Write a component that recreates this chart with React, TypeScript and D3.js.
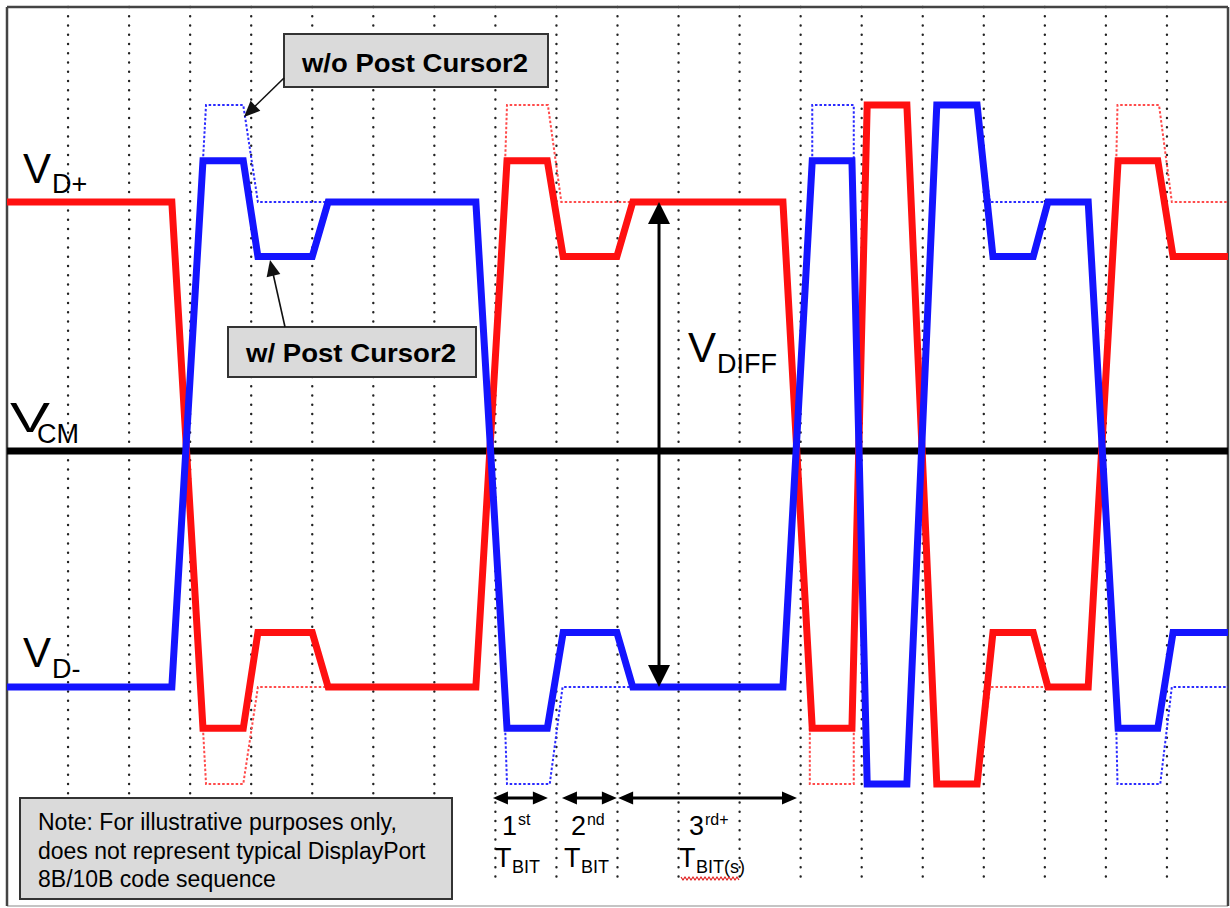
import React from "react";
import * as d3 from "d3";

const W = 1230;
const H = 908;

// time axis: bit-grid divisions (0..20); level axis: nominal swing units (+1 = VD+, -1 = VD-)
const gridDivisions = d3.range(1, 20);

const redSolid: [number, number][] = [
  [0, 1], [2.7, 1], [3.21, -1.17], [3.87, -1.17], [4.11, -0.775], [5.0, -0.775],
  [5.26, -1], [7.68, -1], [8.19, 1.17], [8.85, 1.17], [9.11, 0.775], [9.99, 0.775],
  [10.25, 1], [12.71, 1], [13.19, -1.17], [13.84, -1.17], [14.09, 1.4], [14.74, 1.4],
  [15.23, -1.4], [15.89, -1.4], [16.15, -0.775], [16.81, -0.775], [17.05, -1], [17.71, -1],
  [18.2, 1.17], [18.85, 1.17], [19.1, 0.775], [20, 0.775],
];

const blueSolid: [number, number][] = [
  [0, -1], [2.7, -1], [3.21, 1.17], [3.87, 1.17], [4.11, 0.775], [5.0, 0.775],
  [5.26, 1], [7.68, 1], [8.19, -1.17], [8.85, -1.17], [9.11, -0.775], [9.99, -0.775],
  [10.25, -1], [12.71, -1], [13.19, 1.17], [13.84, 1.17], [14.09, -1.4], [14.74, -1.4],
  [15.23, 1.4], [15.89, 1.4], [16.15, 0.775], [16.81, 0.775], [17.05, 1], [17.71, 1],
  [18.2, -1.17], [18.85, -1.17], [19.1, -0.775], [20, -0.775],
];

// without Post Cursor2 (dotted)
const redDotted: [number, number][][] = [
  [[3.21, -1.17], [3.26, -1.4], [3.87, -1.4], [4.11, -1], [5.26, -1]],
  [[8.16, 1.17], [8.19, 1.4], [8.86, 1.4], [9.08, 1], [10.25, 1]],
  [[13.15, -1.17], [13.15, -1.4], [13.87, -1.4], [13.87, -1.17]],
  [[15.89, -1.4], [16.1, -1], [17.05, -1]],
  [[18.17, 1.17], [18.19, 1.4], [18.87, 1.4], [19.08, 1], [20, 1]],
];

const blueDotted: [number, number][][] = [
  [[3.21, 1.17], [3.26, 1.4], [3.87, 1.4], [4.11, 1], [5.26, 1]],
  [[8.16, -1.17], [8.19, -1.4], [8.89, -1.4], [9.1, -1], [10.25, -1]],
  [[13.19, 1.17], [13.19, 1.4], [13.87, 1.4], [13.87, 1.17]],
  [[15.89, 1.4], [16.1, 1], [17.05, 1]],
  [[18.17, -1.17], [18.19, -1.4], [18.89, -1.4], [19.08, -1], [20, -1]],
];

const vcmLevel = -0.027;
const vdiffTime = 10.68;
const vdiffRange: [number, number] = [1, -1];

const bitSpans = [
  { num: "1", sup: "st", sub: "BIT", from: 7.96, to: 8.86 },
  { num: "2", sup: "nd", sub: "BIT", from: 9.09, to: 9.99 },
  { num: "3", sup: "rd+", sub: "BIT(s)", from: 10.01, to: 12.94 },
];

const noteLines = [
  "Note: For illustrative purposes only,",
  "does not represent typical DisplayPort",
  "8B/10B code sequence",
];

const FONT = "'Liberation Sans', Arial, Helvetica, sans-serif";

function arrowHead(tipX: number, tipY: number, dx: number, dy: number, len: number, half: number) {
  const bx = tipX - dx * len;
  const by = tipY - dy * len;
  const px = -dy, py = dx;
  return `${tipX},${tipY} ${bx + px * half},${by + py * half} ${bx - px * half},${by - py * half}`;
}

function pointerArrow(x1: number, y1: number, x2: number, y2: number) {
  const L = Math.hypot(x2 - x1, y2 - y1);
  const dx = (x2 - x1) / L, dy = (y2 - y1) / L;
  const len = 16, half = 7;
  return (
    <g>
      <line x1={x1} y1={y1} x2={x2 - dx * len * 0.8} y2={y2 - dy * len * 0.8} stroke="#111" strokeWidth={1.6} />
      <polygon points={arrowHead(x2, y2, dx, dy, len, half)} fill="#111" />
    </g>
  );
}

export default function App() {
  const x = d3.scaleLinear().domain([0, 20]).range([7, 1228]);
  const y = d3.scaleLinear().domain([-1, 1]).range([687, 202]);
  const line = d3.line<[number, number]>().x((d) => x(d[0])).y((d) => y(d[1]));

  const yTop = y(vdiffRange[0]);
  const yBot = y(vdiffRange[1]);
  const xd = x(vdiffTime);

  const arrowY = 798;

  return (
    <svg width={W} height={H} style={{ position: "absolute", left: 0, top: 0, background: "#fff" }} fontFamily={FONT}>
      <rect x={0} y={0} width={W} height={H} fill="#fff" />
      {/* dotted grid */}
      {gridDivisions.map((k) => (
        <line key={k} x1={x(k)} x2={x(k)} y1={7} y2={880} stroke="#222" strokeWidth={2.4}
          strokeDasharray="0 9.25" strokeLinecap="round" />
      ))}
      {/* frame */}
      <line x1={7} y1={906} x2={1228} y2={906} stroke="#c4c4c4" strokeWidth={2} />
      <line x1={7} y1={7} x2={1228} y2={7} stroke="#444" strokeWidth={2.5} />
      <line x1={7} y1={7} x2={7} y2={906} stroke="#444" strokeWidth={2.5} />
      <line x1={1228} y1={7} x2={1228} y2={906} stroke="#444" strokeWidth={2.5} />

      {/* V_CM line */}
      <line x1={7} x2={1228} y1={y(vcmLevel)} y2={y(vcmLevel)} stroke="#000" strokeWidth={7} />

      {/* dotted waveforms (w/o Post Cursor2) */}
      {redDotted.map((seg, i) => (
        <path key={"rd" + i} d={line(seg) || ""} fill="none" stroke="#ff4a4a" strokeWidth={2} strokeDasharray="2.5 2" />
      ))}
      {blueDotted.map((seg, i) => (
        <path key={"bd" + i} d={line(seg) || ""} fill="none" stroke="#2a2aff" strokeWidth={2} strokeDasharray="2.5 2" />
      ))}

      {/* solid waveforms */}
      <path d={line(redSolid) || ""} fill="none" stroke="#ff1010" strokeWidth={7} strokeLinejoin="miter" strokeMiterlimit={3} />
      <path d={line(blueSolid) || ""} fill="none" stroke="#1414ff" strokeWidth={7} strokeLinejoin="miter" strokeMiterlimit={3} />

      {/* V_DIFF arrow */}
      <line x1={xd} x2={xd} y1={yTop + 18} y2={yBot - 18} stroke="#000" strokeWidth={3} />
      <polygon points={arrowHead(xd, yTop, 0, -1, 22, 11)} fill="#000" />
      <polygon points={arrowHead(xd, yBot, 0, 1, 22, 11)} fill="#000" />

      {/* Level labels */}
      <text x={23} y={183} fontSize={42} fill="#000">V</text>
      <text x={52} y={193} fontSize={27} fill="#000">D+</text>
      <text x={10} y={432} fontSize={42} fill="#000" textLength={40} lengthAdjust="spacingAndGlyphs">V</text>
      <text x={37} y={443} fontSize={27} fill="#000">CM</text>
      <text x={23} y={667} fontSize={42} fill="#000">V</text>
      <text x={52} y={678} fontSize={27} fill="#000">D-</text>
      <text x={688} y={362} fontSize={42} fill="#000">V</text>
      <text x={717} y={373} fontSize={27} fill="#000">DIFF</text>

      {/* callout boxes */}
      <rect x={284} y={34} width={264} height={53} fill="#dadada" stroke="#333" strokeWidth={2} />
      <text x={302} y={72} fontSize={26} fontWeight="bold" fill="#000" textLength={226} lengthAdjust="spacingAndGlyphs">w/o Post Cursor2</text>
      {pointerArrow(284, 78, 244, 117)}

      <rect x={228} y={327} width={248} height={50} fill="#dadada" stroke="#333" strokeWidth={2} />
      <text x={246} y={362} fontSize={26} fontWeight="bold" fill="#000" textLength={210} lengthAdjust="spacingAndGlyphs">w/ Post Cursor2</text>
      {pointerArrow(285, 327, 270, 260)}

      {/* bit period annotations */}
      {bitSpans.map((b, i) => {
        const x1 = x(b.from), x2 = x(b.to);
        const numX = i === 2 ? 689 : x1 + 9;
        const tX = i === 2 ? 679 : x1 + 2;
        return (
          <g key={"bs" + i}>
            <line x1={x1 + 10} x2={x2 - 10} y1={arrowY} y2={arrowY} stroke="#000" strokeWidth={3} />
            <polygon points={arrowHead(x1, arrowY, -1, 0, 15, 6.5)} fill="#000" />
            <polygon points={arrowHead(x2, arrowY, 1, 0, 15, 6.5)} fill="#000" />
            <text x={numX} y={835} fontSize={27} fill="#000">{b.num}</text>
            <text x={numX + 16} y={825} fontSize={16} fill="#000">{b.sup}</text>
            <text x={tX} y={867} fontSize={27} fill="#000">T</text>
            <text x={tX + 17} y={873} fontSize={18} fill="#000">{b.sub}</text>
          </g>
        );
      })}
      {/* spell-check squiggle */}
      <path
        d={d3.range(0, 30).map((i) => `${i === 0 ? "M" : "L"}${681 + i * 2},${i % 2 === 0 ? 877 : 880}`).join(" ")}
        fill="none" stroke="#e02020" strokeWidth={1.2} />

      {/* note box */}
      <rect x={20} y={798} width={432} height={101} fill="#dadada" stroke="#333" strokeWidth={2} />
      {noteLines.map((t, i) => (
        <text key={"n" + i} x={38} y={830 + i * 28.5} fontSize={23} fill="#000">{t}</text>
      ))}
    </svg>
  );
}
